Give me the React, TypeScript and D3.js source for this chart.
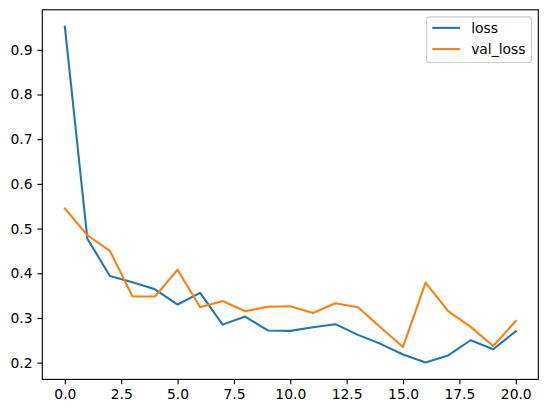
import React, { useEffect, useRef } from "react";
import * as d3 from "d3";

const epochs = [0, 1, 2, 3, 4, 5, 6, 7, 8, 9, 10, 11, 12, 13, 14, 15, 16, 17, 18, 19, 20];
const loss = [0.952, 0.477, 0.394, 0.380, 0.364, 0.330, 0.356, 0.285, 0.303, 0.272, 0.271, 0.279, 0.286, 0.262, 0.242, 0.218, 0.200, 0.216, 0.250, 0.230, 0.270];
const valLoss = [0.545, 0.485, 0.450, 0.348, 0.348, 0.408, 0.324, 0.338, 0.315, 0.325, 0.326, 0.311, 0.333, 0.324, 0.279, 0.235, 0.379, 0.315, 0.280, 0.237, 0.293];
const xTicks = [0, 2.5, 5, 7.5, 10, 12.5, 15, 17.5, 20];
const yTicks = [0.2, 0.3, 0.4, 0.5, 0.6, 0.7, 0.8, 0.9];
const seriesNames = ["loss", "val_loss"];
const colors = ["#1f77b4", "#ff7f0e"];

const W = 547, H = 413;
const L = 42.3, R = 538.3, T = 9.8, B = 379.4;
const FS = 13.89;

export default function App() {
  const ref = useRef<SVGSVGElement>(null);
  useEffect(() => {
    const svg = d3.select(ref.current);
    svg.selectAll("*").remove();
    const all = loss.concat(valLoss);
    const mn = d3.min(all)!, mx = d3.max(all)!;
    const pad = (mx - mn) * 0.05;
    const x = d3.scaleLinear().domain([-1, 21]).range([L, R]);
    const y = d3.scaleLinear().domain([mn - pad, mx + pad]).range([B, T]);

    const font = "DejaVu Sans";
    const lineGen = d3.line<number>().x((_, i) => x(epochs[i])).y(d => y(d));
    [loss, valLoss].forEach((s, k) => {
      svg.append("path").attr("d", lineGen(s)).attr("fill", "none")
        .attr("stroke", colors[k]).attr("stroke-width", 2.08)
        .attr("stroke-linejoin", "round").attr("stroke-linecap", "square");
    });

    // spines
    svg.append("rect").attr("x", L).attr("y", T).attr("width", R - L).attr("height", B - T)
      .attr("fill", "none").attr("stroke", "#000").attr("stroke-width", 1.11);

    const xa = svg.append("g").attr("transform", `translate(0,${B})`)
      .call(d3.axisBottom(x).tickValues(xTicks).tickFormat(d3.format(".1f")).tickSize(4.86).tickPadding(4.86));
    const ya = svg.append("g").attr("transform", `translate(${L},0)`)
      .call(d3.axisLeft(y).tickValues(yTicks).tickFormat(d3.format(".1f")).tickSize(4.86).tickPadding(4.86));
    [xa, ya].forEach(a => {
      a.select(".domain").remove();
      a.selectAll("line").attr("stroke", "#000").attr("stroke-width", 1.11);
      a.selectAll("text").attr("font-family", font).attr("font-size", FS).attr("fill", "#000");
    });

    // legend
    const lx = 426.7, ly = 16.9, lw = 104.7, lh = 45.6;
    svg.append("rect").attr("x", lx).attr("y", ly).attr("width", lw).attr("height", lh)
      .attr("rx", 2.8).attr("fill", "#fff").attr("fill-opacity", 0.8)
      .attr("stroke", "#cccccc").attr("stroke-width", 1.11);
    seriesNames.forEach((n, k) => {
      const yy = 27.9 + k * 21.2;
      svg.append("line").attr("x1", lx + 5.56).attr("x2", lx + 5.56 + 27.8)
        .attr("y1", yy).attr("y2", yy).attr("stroke", colors[k]).attr("stroke-width", 2.08);
      svg.append("text").attr("x", lx + 5.56 + 27.8 + 11.1).attr("y", yy).attr("dy", "0.36em")
        .attr("font-family", font).attr("font-size", FS).attr("fill", "#000").text(n);
    });
  }, []);
  return (
    <svg ref={ref} width={W} height={H}
      style={{ position: "absolute", left: 0, top: 0, background: "#fff" }} />
  );
}
